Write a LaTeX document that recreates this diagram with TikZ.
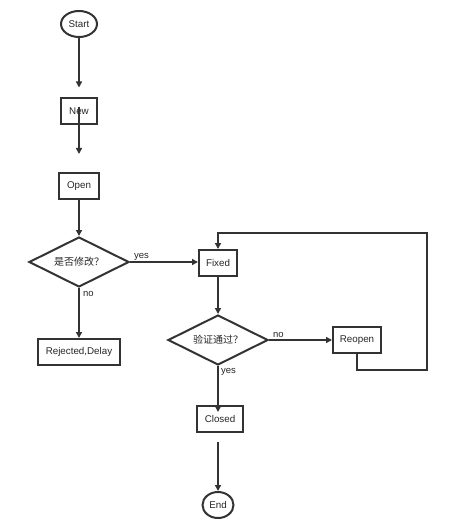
\documentclass[tikz,border=0pt]{standalone}
\usepackage{fontspec}
\setmainfont{Liberation Sans}
\newfontfamily\cjk{Noto Sans CJK SC}
\usetikzlibrary{arrows.meta, shapes.geometric}

\begin{document}
\begin{tikzpicture}[
    x=1pt, y=-1pt,
    every node/.style={text=black!85, font=\fontsize{9.8}{11}\selectfont},
    term/.style={ellipse, draw=black!80, line width=2pt, inner sep=0pt, minimum height=26pt},
    state/.style={rectangle, draw=black!80, line width=2pt, inner sep=0pt, minimum height=26pt},
    decision/.style={diamond, draw=black!80, line width=2pt, inner sep=0pt, shape aspect=2, minimum width=100pt, minimum height=50pt, font=\cjk\fontsize{10}{12}\selectfont},
    arrow/.style={-{Triangle[length=6pt, width=6pt]}, line width=2pt, draw=black!80},
    edgelabel/.style={inner sep=1pt, font=\fontsize{9.5}{11}\selectfont},
  ]
  \useasboundingbox (0,0) rectangle (459,526);

  % Left column
  \node[term, minimum width=36pt] (start) at (79,24) {Start};
  \node[state, minimum width=36pt] (new) at (79,111) {New};
  \node[state, minimum width=40pt] (open) at (79,186) {Open};
  \node[decision] (isfix) at (79,262) {是否修改？};
  \node[state, minimum width=82pt] (rejected) at (79,352) {Rejected,Delay};

  % Right column
  \node[state, minimum width=38pt] (fixed) at (218,263) {Fixed};
  \node[decision] (verify) at (218,340) {验证通过？};
  \node[state, minimum width=48pt] (reopen) at (357,340) {Reopen};
  \node[state, minimum width=46pt] (closed) at (220,419) {Closed};
  \node[term, minimum width=31pt] (finish) at (218,505) {End};

  \coordinate (loopcorner) at (427,233);

  % Arrows
  \draw[arrow, shorten >=9.5pt] (start) -- (start |- new.north);
  \draw[arrow, shorten <=-18pt, shorten >=18pt] (start |- new.south) -- (start |- open.north);
  \draw[arrow] (start |- open.south) -- (start |- isfix.north);
  \draw[arrow] (isfix) -- node[edgelabel, pos=0, anchor=south west, xshift=2pt] {yes} (isfix -| fixed.west);
  \draw[arrow] (isfix) -- node[edgelabel, pos=0, anchor=north west, xshift=2pt, yshift=-1pt] {no} (isfix |- rejected.north);
  \draw[arrow] (verify |- fixed.south) -- (verify.north);
  \draw[arrow] (verify) -- node[edgelabel, pos=0, anchor=south west, xshift=2pt] {no} (verify -| reopen.west);
  \draw[arrow] (reopen.south) -- ++(0,16) -| (loopcorner) -| (verify |- fixed.north);
  \draw[arrow, shorten >=-7pt] (verify) -- node[edgelabel, pos=0, anchor=north west, xshift=1pt] {yes} (verify |- closed.north);
  \draw[arrow, shorten <=9pt] (finish |- closed.south) -- (finish.north);

\end{tikzpicture}
\end{document}
